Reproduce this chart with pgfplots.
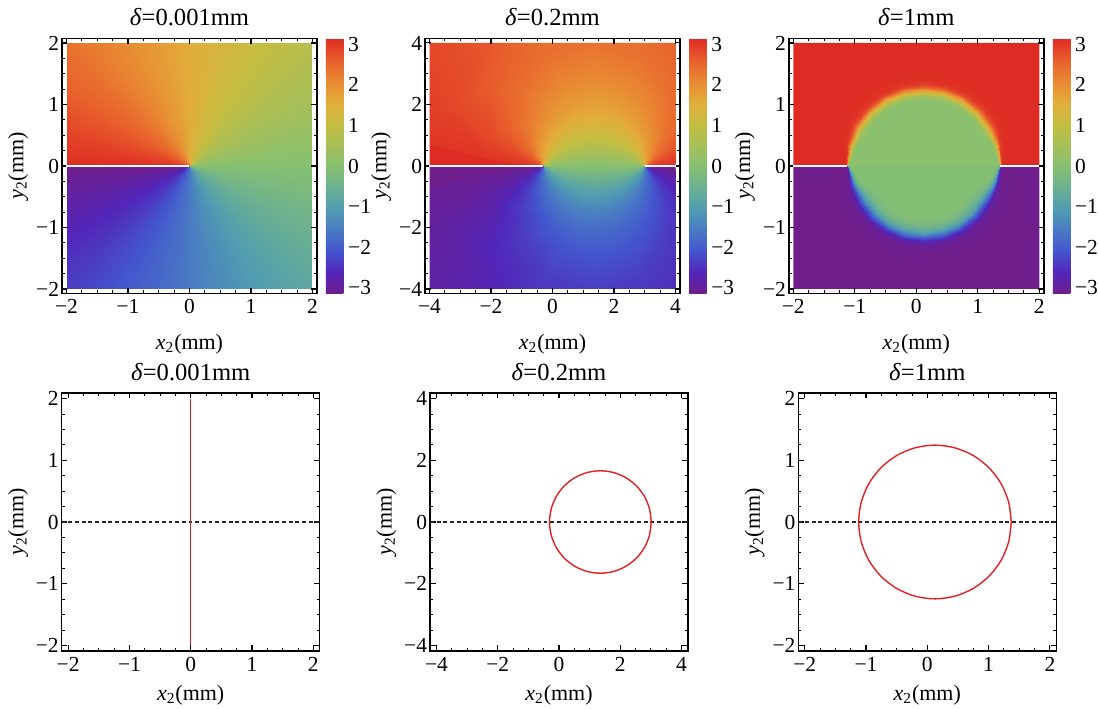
\documentclass[border=0pt]{standalone}
\usepackage{fontspec}
\setmainfont{Liberation Serif}
\usepackage{pgfplots}
\usepackage{pgfplotstable}
\pgfplotsset{compat=1.18}

\newcommand\tickfont{\fontsize{12.2}{14}\selectfont}
\newcommand\labfont{\fontsize{12.5}{15}\selectfont}
\newcommand\titfont{\fontsize{14}{16}\selectfont}
\definecolor{mred}{RGB}{228,32,36}

% phase colormap, -pi .. pi, and its mirror (used for the lower half plane)
\pgfplotsset{
  colormap={phase}{rgb255(0cm)=(112,30,140); rgb255(1cm)=(82,38,185); rgb255(2cm)=(68,86,206);
    rgb255(3cm)=(73,123,195); rgb255(4cm)=(81,157,177); rgb255(5cm)=(107,176,145);
    rgb255(6cm)=(135,192,112); rgb255(7cm)=(167,191,88); rgb255(8cm)=(198,189,65);
    rgb255(9cm)=(226,173,58); rgb255(10cm)=(233,137,51); rgb255(11cm)=(232,93,44);
    rgb255(12cm)=(222,44,36)},
  colormap={phaserev}{rgb255(0cm)=(222,44,36); rgb255(1cm)=(232,93,44); rgb255(2cm)=(233,137,51);
    rgb255(3cm)=(226,173,58); rgb255(4cm)=(198,189,65); rgb255(5cm)=(167,191,88);
    rgb255(6cm)=(135,192,112); rgb255(7cm)=(107,176,145); rgb255(8cm)=(81,157,177);
    rgb255(9cm)=(73,123,195); rgb255(10cm)=(68,86,206); rgb255(11cm)=(82,38,185);
    rgb255(12cm)=(112,30,140)},
  img/.style={scale only axis, anchor=south west, width=4.92cm, height=4.92cm,
    hide axis, view={0}{90}, colormap name=phase,
    point meta min=-3.1416, point meta max=3.1416},
  frm/.style={scale only axis, anchor=south west,
    axis line style={line width=0.9pt},
    tick align=inside,
    major tick length=0.11cm, minor tick length=0.06cm,
    every major tick/.style={line width=0.6pt, black},
    every minor tick/.style={line width=0.5pt, black},
    minor x tick num=3, minor y tick num=3,
    tick label style={font=\tickfont},
    yticklabel style={inner sep=1.5pt},
    xlabel={\textit{x}\textsubscript{2}(mm)},
    ylabel={\textit{y}\textsubscript{2}(mm)}},
  frmtop/.style={frm, width=5.1cm, height=5.1cm,
    every axis title/.style={at={(axis description cs:0.5,1.05)}, anchor=base, font=\titfont},
    every axis x label/.style={at={(axis description cs:0.5,-0.218)}, anchor=base, font=\labfont},
    every axis y label/.style={at={(axis description cs:-0.172,0.5)}, anchor=center, rotate=90, font=\labfont},
    colorbar, colormap name=phase, point meta min=-3.1416, point meta max=3.1416,
    colorbar style={at={(parent axis.north east)}, anchor=north west, xshift=-0.12cm,
      width=0.35cm, axis line style={draw=none}, major tick length=0pt,
      ytick={-3,...,3}, yticklabels={−3,−2,−1,0,1,2,3},
      tick label style={font=\tickfont}, yticklabel style={inner sep=2.5pt}}},
  frmbot/.style={frm, width=5.16cm, height=5.16cm,
    every axis title/.style={at={(axis description cs:0.5,1.048)}, anchor=base, font=\titfont},
    every axis x label/.style={at={(axis description cs:0.5,-0.19)}, anchor=base, font=\labfont},
    every axis y label/.style={at={(axis description cs:-0.169,0.5)}, anchor=center, rotate=90, font=\labfont}},
  cut/.style={white, line width=0.9pt},
  zero/.style={black!85, line width=0.8pt, dash pattern=on 2.2pt off 1.6pt},
}

% delta = 0.001 mm: phase around the origin, five square rings (inner to outer)
\pgfplotstableread{
x y v
-0.008 0 -3.1416
-0.008 -0.001 -3.0172
-0.008 -0.002 -2.8966
-0.008 -0.003 -2.7828
-0.008 -0.004 -2.6779
-0.008 -0.005 -2.5830
-0.008 -0.006 -2.4981
-0.008 -0.007 -2.4228
-0.008 -0.008 -2.3562
-0.007 -0.008 -2.2896
-0.006 -0.008 -2.2143
-0.005 -0.008 -2.1294
-0.004 -0.008 -2.0344
-0.003 -0.008 -1.9296
-0.002 -0.008 -1.8158
-0.001 -0.008 -1.6952
0 -0.008 -1.5708
0.001 -0.008 -1.4464
0.002 -0.008 -1.3258
0.003 -0.008 -1.2120
0.004 -0.008 -1.1071
0.005 -0.008 -1.0122
0.006 -0.008 -0.9273
0.007 -0.008 -0.8520
0.008 -0.008 -0.7854
0.008 -0.007 -0.7188
0.008 -0.006 -0.6435
0.008 -0.005 -0.5586
0.008 -0.004 -0.4636
0.008 -0.003 -0.3588
0.008 -0.002 -0.2450
0.008 -0.001 -0.1244
0.008 0 0
0.008 0.001 0.1244
0.008 0.002 0.2450
0.008 0.003 0.3588
0.008 0.004 0.4636
0.008 0.005 0.5586
0.008 0.006 0.6435
0.008 0.007 0.7188
0.008 0.008 0.7854
0.007 0.008 0.8520
0.006 0.008 0.9273
0.005 0.008 1.0122
0.004 0.008 1.1071
0.003 0.008 1.2120
0.002 0.008 1.3258
0.001 0.008 1.4464
0 0.008 1.5708
-0.001 0.008 1.6952
-0.002 0.008 1.8158
-0.003 0.008 1.9296
-0.004 0.008 2.0344
-0.005 0.008 2.1294
-0.006 0.008 2.2143
-0.007 0.008 2.2896
-0.008 0.008 2.3562
-0.008 0.007 2.4228
-0.008 0.006 2.4981
-0.008 0.005 2.5830
-0.008 0.004 2.6779
-0.008 0.003 2.7828
-0.008 0.002 2.8966
-0.008 0.001 3.0172
-0.008 0 3.1416
-0.2 0 -3.1416
-0.2 -0.025 -3.0172
-0.2 -0.05 -2.8966
-0.2 -0.075 -2.7828
-0.2 -0.1 -2.6779
-0.2 -0.125 -2.5830
-0.2 -0.15 -2.4981
-0.2 -0.175 -2.4228
-0.2 -0.2 -2.3562
-0.175 -0.2 -2.2896
-0.15 -0.2 -2.2143
-0.125 -0.2 -2.1294
-0.1 -0.2 -2.0344
-0.075 -0.2 -1.9296
-0.05 -0.2 -1.8158
-0.025 -0.2 -1.6952
0 -0.2 -1.5708
0.025 -0.2 -1.4464
0.05 -0.2 -1.3258
0.075 -0.2 -1.2120
0.1 -0.2 -1.1071
0.125 -0.2 -1.0122
0.15 -0.2 -0.9273
0.175 -0.2 -0.8520
0.2 -0.2 -0.7854
0.2 -0.175 -0.7188
0.2 -0.15 -0.6435
0.2 -0.125 -0.5586
0.2 -0.1 -0.4636
0.2 -0.075 -0.3588
0.2 -0.05 -0.2450
0.2 -0.025 -0.1244
0.2 0 0
0.2 0.025 0.1244
0.2 0.05 0.2450
0.2 0.075 0.3588
0.2 0.1 0.4636
0.2 0.125 0.5586
0.2 0.15 0.6435
0.2 0.175 0.7188
0.2 0.2 0.7854
0.175 0.2 0.8520
0.15 0.2 0.9273
0.125 0.2 1.0122
0.1 0.2 1.1071
0.075 0.2 1.2120
0.05 0.2 1.3258
0.025 0.2 1.4464
0 0.2 1.5708
-0.025 0.2 1.6952
-0.05 0.2 1.8158
-0.075 0.2 1.9296
-0.1 0.2 2.0344
-0.125 0.2 2.1294
-0.15 0.2 2.2143
-0.175 0.2 2.2896
-0.2 0.2 2.3562
-0.2 0.175 2.4228
-0.2 0.15 2.4981
-0.2 0.125 2.5830
-0.2 0.1 2.6779
-0.2 0.075 2.7828
-0.2 0.05 2.8966
-0.2 0.025 3.0172
-0.2 0 3.1416
-0.5 0 -3.1416
-0.5 -0.0625 -3.0172
-0.5 -0.125 -2.8966
-0.5 -0.1875 -2.7828
-0.5 -0.25 -2.6779
-0.5 -0.3125 -2.5830
-0.5 -0.375 -2.4981
-0.5 -0.4375 -2.4228
-0.5 -0.5 -2.3562
-0.4375 -0.5 -2.2896
-0.375 -0.5 -2.2143
-0.3125 -0.5 -2.1294
-0.25 -0.5 -2.0344
-0.1875 -0.5 -1.9296
-0.125 -0.5 -1.8158
-0.0625 -0.5 -1.6952
0 -0.5 -1.5708
0.0625 -0.5 -1.4464
0.125 -0.5 -1.3258
0.1875 -0.5 -1.2120
0.25 -0.5 -1.1071
0.3125 -0.5 -1.0122
0.375 -0.5 -0.9273
0.4375 -0.5 -0.8520
0.5 -0.5 -0.7854
0.5 -0.4375 -0.7188
0.5 -0.375 -0.6435
0.5 -0.3125 -0.5586
0.5 -0.25 -0.4636
0.5 -0.1875 -0.3588
0.5 -0.125 -0.2450
0.5 -0.0625 -0.1244
0.5 0 0
0.5 0.0625 0.1244
0.5 0.125 0.2450
0.5 0.1875 0.3588
0.5 0.25 0.4636
0.5 0.3125 0.5586
0.5 0.375 0.6435
0.5 0.4375 0.7188
0.5 0.5 0.7854
0.4375 0.5 0.8520
0.375 0.5 0.9273
0.3125 0.5 1.0122
0.25 0.5 1.1071
0.1875 0.5 1.2120
0.125 0.5 1.3258
0.0625 0.5 1.4464
0 0.5 1.5708
-0.0625 0.5 1.6952
-0.125 0.5 1.8158
-0.1875 0.5 1.9296
-0.25 0.5 2.0344
-0.3125 0.5 2.1294
-0.375 0.5 2.2143
-0.4375 0.5 2.2896
-0.5 0.5 2.3562
-0.5 0.4375 2.4228
-0.5 0.375 2.4981
-0.5 0.3125 2.5830
-0.5 0.25 2.6779
-0.5 0.1875 2.7828
-0.5 0.125 2.8966
-0.5 0.0625 3.0172
-0.5 0 3.1416
-1 0 -3.1416
-1 -0.125 -3.0172
-1 -0.25 -2.8966
-1 -0.375 -2.7828
-1 -0.5 -2.6779
-1 -0.625 -2.5830
-1 -0.75 -2.4981
-1 -0.875 -2.4228
-1 -1 -2.3562
-0.875 -1 -2.2896
-0.75 -1 -2.2143
-0.625 -1 -2.1294
-0.5 -1 -2.0344
-0.375 -1 -1.9296
-0.25 -1 -1.8158
-0.125 -1 -1.6952
0 -1 -1.5708
0.125 -1 -1.4464
0.25 -1 -1.3258
0.375 -1 -1.2120
0.5 -1 -1.1071
0.625 -1 -1.0122
0.75 -1 -0.9273
0.875 -1 -0.8520
1 -1 -0.7854
1 -0.875 -0.7188
1 -0.75 -0.6435
1 -0.625 -0.5586
1 -0.5 -0.4636
1 -0.375 -0.3588
1 -0.25 -0.2450
1 -0.125 -0.1244
1 0 0
1 0.125 0.1244
1 0.25 0.2450
1 0.375 0.3588
1 0.5 0.4636
1 0.625 0.5586
1 0.75 0.6435
1 0.875 0.7188
1 1 0.7854
0.875 1 0.8520
0.75 1 0.9273
0.625 1 1.0122
0.5 1 1.1071
0.375 1 1.2120
0.25 1 1.3258
0.125 1 1.4464
0 1 1.5708
-0.125 1 1.6952
-0.25 1 1.8158
-0.375 1 1.9296
-0.5 1 2.0344
-0.625 1 2.1294
-0.75 1 2.2143
-0.875 1 2.2896
-1 1 2.3562
-1 0.875 2.4228
-1 0.75 2.4981
-1 0.625 2.5830
-1 0.5 2.6779
-1 0.375 2.7828
-1 0.25 2.8966
-1 0.125 3.0172
-1 0 3.1416
-2 0 -3.1416
-2 -0.25 -3.0172
-2 -0.5 -2.8966
-2 -0.75 -2.7828
-2 -1 -2.6779
-2 -1.25 -2.5830
-2 -1.5 -2.4981
-2 -1.75 -2.4228
-2 -2 -2.3562
-1.75 -2 -2.2896
-1.5 -2 -2.2143
-1.25 -2 -2.1294
-1 -2 -2.0344
-0.75 -2 -1.9296
-0.5 -2 -1.8158
-0.25 -2 -1.6952
0 -2 -1.5708
0.25 -2 -1.4464
0.5 -2 -1.3258
0.75 -2 -1.2120
1 -2 -1.1071
1.25 -2 -1.0122
1.5 -2 -0.9273
1.75 -2 -0.8520
2 -2 -0.7854
2 -1.75 -0.7188
2 -1.5 -0.6435
2 -1.25 -0.5586
2 -1 -0.4636
2 -0.75 -0.3588
2 -0.5 -0.2450
2 -0.25 -0.1244
2 0 0
2 0.25 0.1244
2 0.5 0.2450
2 0.75 0.3588
2 1 0.4636
2 1.25 0.5586
2 1.5 0.6435
2 1.75 0.7188
2 2 0.7854
1.75 2 0.8520
1.5 2 0.9273
1.25 2 1.0122
1 2 1.1071
0.75 2 1.2120
0.5 2 1.3258
0.25 2 1.4464
0 2 1.5708
-0.25 2 1.6952
-0.5 2 1.8158
-0.75 2 1.9296
-1 2 2.0344
-1.25 2 2.1294
-1.5 2 2.2143
-1.75 2 2.2896
-2 2 2.3562
-2 1.75 2.4228
-2 1.5 2.4981
-2 1.25 2.5830
-2 1 2.6779
-2 0.75 2.7828
-2 0.5 2.8966
-2 0.25 3.0172
-2 0 3.1416
}\fanA

% delta = 0.2 mm: upper half plane, arcs of equal phase through the two end points
% (normalised units: end points at ux = -1 and +1)
\pgfplotstableread{
ux uy v
-0.98661 0 0
-0.94138 0 0
-0.80050 0 0
-0.63515 0 0
-0.46212 0 0
-0.29131 0 0
-0.14888 0 0
0 0 0
0.14888 0 0
0.29131 0 0
0.46212 0 0
0.63515 0 0
0.80050 0 0
0.94138 0 0
0.98661 0 0
-0.98833 0.00666 0.5236
-0.94861 0.02867 0.5236
-0.82023 0.09201 0.5236
-0.66159 0.15535 0.5236
-0.48781 0.20755 0.5236
-0.31034 0.24372 0.5236
-0.15932 0.26159 0.5236
0 0.26795 0.5236
0.15932 0.26159 0.5236
0.31034 0.24372 0.5236
0.48781 0.20755 0.5236
0.66159 0.15535 0.5236
0.82023 0.09201 0.5236
0.94861 0.02867 0.5236
0.98833 0.00666 0.5236
-0.99317 0.01159 1.0472
-0.96894 0.05073 1.0472
-0.87948 0.17088 1.0472
-0.74649 0.30361 1.0472
-0.57521 0.42388 1.0472
-0.37773 0.51382 1.0472
-0.19706 0.56041 1.0472
0 0.57735 1.0472
0.19706 0.56041 1.0472
0.37773 0.51382 1.0472
0.57521 0.42388 1.0472
0.74649 0.30361 1.0472
0.87948 0.17088 1.0472
0.96894 0.05073 1.0472
0.99317 0.01159 1.0472
-0.99639 0.01297 1.3090
-0.98283 0.05739 1.3090
-0.92342 0.20012 1.3090
-0.81543 0.36991 1.3090
-0.65220 0.53607 1.3090
-0.44080 0.66879 1.3090
-0.23350 0.74065 1.3090
0 0.76733 1.3090
0.23350 0.74065 1.3090
0.44080 0.66879 1.3090
0.65220 0.53607 1.3090
0.81543 0.36991 1.3090
0.92342 0.20012 1.3090
0.98283 0.05739 1.3090
0.99639 0.01297 1.3090
-0.99846 0.01338 1.4661
-0.99192 0.05963 1.4661
-0.95391 0.21285 1.4661
-0.86664 0.40478 1.4661
-0.71328 0.60361 1.4661
-0.49353 0.77095 1.4661
-0.26483 0.86490 1.4661
0 0.90040 1.4661
0.26483 0.86490 1.4661
0.49353 0.77095 1.4661
0.71328 0.60361 1.4661
0.86664 0.40478 1.4661
0.95391 0.21285 1.4661
0.99192 0.05963 1.4661
0.99846 0.01338 1.4661
-0.99940 0.01346 1.5359
-0.99608 0.06018 1.5359
-0.96835 0.21713 1.5359
-0.89192 0.41863 1.5359
-0.74475 0.63334 1.5359
-0.52169 0.81892 1.5359
-0.28190 0.92516 1.5359
0 0.96569 1.5359
0.28190 0.92516 1.5359
0.52169 0.81892 1.5359
0.74475 0.63334 1.5359
0.89192 0.41863 1.5359
0.96835 0.21713 1.5359
0.99608 0.06018 1.5359
0.99940 0.01346 1.5359
-1.00034 0.01347 1.6057
-1.00028 0.06043 1.6057
-0.98326 0.22047 1.6057
-0.91878 0.43124 1.6057
-0.77922 0.66265 1.6057
-0.55333 0.86860 1.6057
-0.30137 0.98906 1.6057
0 1.03553 1.6057
0.30137 0.98906 1.6057
0.55333 0.86860 1.6057
0.77922 0.66265 1.6057
0.91878 0.43124 1.6057
0.98326 0.22047 1.6057
1.00028 0.06043 1.6057
1.00034 0.01347 1.6057
-1.00128 0.01342 1.6755
-1.00451 0.06039 1.6755
-0.99860 0.22282 1.6755
-0.94724 0.44243 1.6755
-0.81694 0.69134 1.6755
-0.58898 0.92005 1.6755
-0.32368 1.05709 1.6755
0 1.11061 1.6755
0.32368 1.05709 1.6755
0.58898 0.92005 1.6755
0.81694 0.69134 1.6755
0.94724 0.44243 1.6755
0.99860 0.22282 1.6755
1.00451 0.06039 1.6755
1.00128 0.01342 1.6755
-1.00336 0.01306 1.8326
-1.01401 0.05921 1.8326
-1.03435 0.22416 1.8326
-1.01705 0.46137 1.8326
-0.91508 0.75213 1.8326
-0.68704 1.04239 1.8326
-0.38717 1.22811 1.8326
0 1.30323 1.8326
0.38717 1.22811 1.8326
0.68704 1.04239 1.8326
0.91508 0.75213 1.8326
1.01705 0.46137 1.8326
1.03435 0.22416 1.8326
1.01401 0.05921 1.8326
1.00336 0.01306 1.8326
-1.00665 0.01175 2.0944
-1.02923 0.05388 2.0944
-1.09568 0.21289 2.0944
-1.14946 0.46751 2.0944
-1.12666 0.83026 2.0944
-0.92878 1.26341 2.0944
-0.55840 1.58805 2.0944
0 1.73206 2.0944
0.55840 1.58805 2.0944
0.92878 1.26341 2.0944
1.12666 0.83026 2.0944
1.14946 0.46751 2.0944
1.09568 0.21289 2.0944
1.02923 0.05388 2.0944
1.00665 0.01175 2.0944
-1.00948 0.00962 2.3562
-1.04267 0.04457 2.3562
-1.15445 0.18315 2.3562
-1.29416 0.42977 2.3562
-1.40579 0.84586 2.3562
-1.33090 1.47820 2.3562
-0.90033 2.09062 2.3562
0 2.41425 2.3562
0.90033 2.09062 2.3562
1.33090 1.47820 2.3562
1.40579 0.84586 2.3562
1.29416 0.42977 2.3562
1.15445 0.18315 2.3562
1.04267 0.04457 2.3562
1.00948 0.00962 2.3562
-1.01167 0.00682 2.6180
-1.05322 0.03183 2.6180
-1.20401 0.13507 2.6180
-1.43253 0.33639 2.6180
-1.73577 0.73850 2.6180
-1.99302 1.56524 2.6180
-1.69829 2.78847 2.6180
0 3.73218 2.6180
1.69829 2.78847 2.6180
1.99302 1.56524 2.6180
1.73577 0.73850 2.6180
1.43253 0.33639 2.6180
1.20401 0.13507 2.6180
1.05322 0.03183 2.6180
1.01167 0.00682 2.6180
-1.01305 0.00353 2.8798
-1.05996 0.01658 2.8798
-1.23741 0.07186 2.8798
-1.53575 0.18668 2.8798
-2.03621 0.44845 2.8798
-2.89993 1.17892 2.8798
-3.83478 3.25929 2.8798
0 7.59672 2.8798
3.83478 3.25929 2.8798
2.89993 1.17892 2.8798
2.03621 0.44845 2.8798
1.53575 0.18668 2.8798
1.23741 0.07186 2.8798
1.05996 0.01658 2.8798
1.01305 0.00353 2.8798
-1.01347 0.00119 3.0543
-1.06202 0.00560 3.0543
-1.24789 0.02440 3.0543
-1.57001 0.06427 3.0543
-2.14888 0.15937 3.0543
-3.36354 0.46048 3.0543
-6.19573 1.77335 3.0543
0 22.876 3.0543
6.19573 1.77335 3.0543
3.36354 0.46048 3.0543
2.14888 0.15937 3.0543
1.57001 0.06427 3.0543
1.24789 0.02440 3.0543
1.06202 0.00560 3.0543
1.01347 0.00119 3.0543
}\bip

% delta = 1 mm: rings round the disc centre (0.12,0), every 15 degrees,
% gu = phase above the axis, gl = |phase| below it
\pgfplotstableread{
x y gu gl
0.12 0 0.05 0.05
0.12 0 0.05 0.05
0.12 0 0.05 0.05
0.12 0 0.05 0.05
0.12 0 0.05 0.05
0.12 0 0.05 0.05
0.12 0 0.05 0.05
0.12 0 0.05 0.05
0.12 0 0.05 0.05
0.12 0 0.05 0.05
0.12 0 0.05 0.05
0.12 0 0.05 0.05
0.12 0 0.05 0.05
1.316 0 0.05 0.05
1.084 0.2583 0.05 0.05
0.81282 0.4 0.05 0.05
0.68569 0.56569 0.05 0.05
0.52 0.69282 0.05 0.05
0.32706 0.77274 0.05 0.05
0.12 0.8 0.05 0.05
-0.08706 0.77274 0.05 0.05
-0.28 0.69282 0.05 0.05
-0.44569 0.56569 0.05 0.05
-0.57282 0.4 0.05 0.05
-0.844 0.2583 0.05 0.05
-1.076 0 0.05 0.05
1.331 0 0.05 0.2
1.16369 0.27966 0.05 0.2
0.94273 0.475 0.05 0.2
0.79175 0.67175 0.05 0.2
0.595 0.82273 0.05 0.2
0.36588 0.91763 0.05 0.2
0.12 0.95 0.05 0.2
-0.12588 0.91763 0.05 0.2
-0.355 0.82273 0.05 0.2
-0.55175 0.67175 0.05 0.2
-0.70273 0.475 0.05 0.2
-0.92369 0.27966 0.05 0.2
-1.091 0 0.05 0.2
1.339 0 0.06 0.55
1.20619 0.29104 0.06 0.55
1.01201 0.515 0.06 0.55
0.84832 0.72832 0.06 0.55
0.635 0.89201 0.06 0.55
0.38658 0.99491 0.06 0.55
0.12 1.03 0.06 0.55
-0.14658 0.99491 0.06 0.55
-0.395 0.89201 0.06 0.55
-0.60832 0.72832 0.06 0.55
-0.77201 0.515 0.06 0.55
-0.96619 0.29104 0.06 0.55
-1.099 0 0.06 0.55
1.346 0 0.12 1.1
1.24338 0.30101 0.12 1.1
1.07263 0.55 0.12 1.1
0.89782 0.77782 0.12 1.1
0.67 0.95263 0.12 1.1
0.4047 1.06252 0.12 1.1
0.12 1.10 0.12 1.1
-0.1647 1.06252 0.12 1.1
-0.43 0.95263 0.12 1.1
-0.65782 0.77782 0.12 1.1
-0.83263 0.55 0.12 1.1
-1.00338 0.30101 0.12 1.1
-1.106 0 0.12 1.1
1.352 0 0.6 1.85
1.27525 0.30955 0.6 1.85
1.12459 0.58 0.6 1.85
0.94025 0.82025 0.6 1.85
0.70 1.00459 0.6 1.85
0.42023 1.12048 0.6 1.85
0.12 1.16 0.6 1.85
-0.18023 1.12048 0.6 1.85
-0.46 1.00459 0.6 1.85
-0.70025 0.82025 0.6 1.85
-0.88459 0.58 0.6 1.85
-1.03525 0.30955 0.6 1.85
-1.112 0 0.6 1.85
1.357 0 1.4 2.45
1.30182 0.31667 1.4 2.45
1.1679 0.605 1.4 2.45
0.9756 0.8556 1.4 2.45
0.725 1.0479 1.4 2.45
0.43317 1.16878 1.4 2.45
0.12 1.21 1.4 2.45
-0.19317 1.16878 1.4 2.45
-0.485 1.0479 1.4 2.45
-0.7356 0.8556 1.4 2.45
-0.9279 0.605 1.4 2.45
-1.06182 0.31667 1.4 2.45
-1.117 0 1.4 2.45
1.361 0 2.0 2.8
1.32307 0.32236 2.0 2.8
1.20254 0.625 2.0 2.8
1.00389 0.88389 2.0 2.8
0.745 1.08254 2.0 2.8
0.44353 1.20741 2.0 2.8
0.12 1.25 2.0 2.8
-0.20353 1.20741 2.0 2.8
-0.505 1.08254 2.0 2.8
-0.76389 0.88389 2.0 2.8
-0.96254 0.625 2.0 2.8
-1.08307 0.32236 2.0 2.8
-1.121 0 2.0 2.8
1.365 0 2.6 2.97
1.34432 0.32805 2.6 2.97
1.23718 0.645 2.6 2.97
1.03217 0.91217 2.6 2.97
0.765 1.11718 2.6 2.97
0.45388 1.24605 2.6 2.97
0.12 1.29 2.6 2.97
-0.21388 1.24605 2.6 2.97
-0.525 1.11718 2.6 2.97
-0.79217 0.91217 2.6 2.97
-0.99718 0.645 2.6 2.97
-1.10432 0.32805 2.6 2.97
-1.125 0 2.6 2.97
1.369 0 2.95 3.06
1.36557 0.33375 2.95 3.06
1.27182 0.665 2.95 3.06
1.06046 0.94046 2.95 3.06
0.785 1.15182 2.95 3.06
0.46423 1.28469 2.95 3.06
0.12 1.33 2.95 3.06
-0.22423 1.28469 2.95 3.06
-0.545 1.15182 2.95 3.06
-0.82046 0.94046 2.95 3.06
-1.03182 0.665 2.95 3.06
-1.12557 0.33375 2.95 3.06
-1.129 0 2.95 3.06
1.376 0 3.1 3.12
1.40276 0.34371 3.1 3.12
1.33244 0.70 3.1 3.12
1.10995 0.98995 3.1 3.12
0.82 1.21244 3.1 3.12
0.48235 1.3523 3.1 3.12
0.12 1.40 3.1 3.12
-0.24235 1.3523 3.1 3.12
-0.58 1.21244 3.1 3.12
-0.86995 0.98995 3.1 3.12
-1.09244 0.70 3.1 3.12
-1.16276 0.34371 3.1 3.12
-1.136 0 3.1 3.12
1.396 0 3.14 3.14
1.50901 0.37218 3.14 3.14
1.50565 0.80 3.14 3.14
1.25138 1.13138 3.14 3.14
0.92 1.38565 3.14 3.14
0.53411 1.54549 3.14 3.14
0.12 1.60 3.14 3.14
-0.29411 1.54549 3.14 3.14
-0.68 1.38565 3.14 3.14
-1.01138 1.13138 3.14 3.14
-1.26565 0.80 3.14 3.14
-1.26901 0.37218 3.14 3.14
-1.156 0 3.14 3.14
}\disc

\begin{document}
\begin{tikzpicture}
\useasboundingbox (0,0) rectangle (21.96,14.18);

% ---------- top row: phase maps ----------
\begin{axis}[img, at={(1.33cm,8.40cm)}, xmin=-2, xmax=2, ymin=-2, ymax=2]
\addplot3[surf, shader=interp, mesh/cols=65] table[x=x, y=y, z=v] {\fanA};
\end{axis}
\begin{axis}[frmtop, at={(1.24cm,8.31cm)},
  xmin=-2.073, xmax=2.073, ymin=-2.073, ymax=2.073,
  xtick={-2,...,2}, ytick={-2,...,2},
  xticklabels={−2,−1,0,1,2}, yticklabels={−2,−1,0,1,2},
  title={\textit{δ}=0.001mm}]
\addplot[cut] coordinates {(-2,0) (0,0)};
\end{axis}

% delta = 0.2 mm, end points -0.31 and 3.01 (centre 1.35, half length 1.66)
\begin{axis}[img, at={(8.59cm,8.40cm)}, xmin=-3.22289, xmax=1.59639, ymin=-2.40964, ymax=2.40964]
\addplot3[surf, shader=flat, mesh/cols=2] coordinates {(-3.3,0,3.1416) (1.7,0,3.1416) (-3.3,2.5,3.1416) (1.7,2.5,3.1416)};
\addplot3[surf, shader=interp, mesh/cols=15] table[x=ux, y=uy, z=v] {\bip};
\end{axis}
\begin{axis}[img, colormap name=phaserev, y dir=reverse, at={(8.59cm,8.40cm)}, xmin=-3.22289, xmax=1.59639, ymin=-2.40964, ymax=2.40964]
\addplot3[surf, shader=flat, mesh/cols=2] coordinates {(-3.3,0,3.1416) (1.7,0,3.1416) (-3.3,2.5,3.1416) (1.7,2.5,3.1416)};
\addplot3[surf, shader=interp, mesh/cols=15] table[x=ux, y=uy, z=v] {\bip};
\end{axis}
\begin{axis}[frmtop, at={(8.50cm,8.31cm)},
  xmin=-4.146, xmax=4.146, ymin=-4.146, ymax=4.146,
  xtick={-4,-2,...,4}, ytick={-4,-2,...,4},
  xticklabels={−4,−2,0,2,4}, yticklabels={−4,−2,0,2,4},
  title={\textit{δ}=0.2mm}]
\addplot[cut] coordinates {(-4,0) (-0.31,0)};
\addplot[cut] coordinates {(3.01,0) (4,0)};
\end{axis}

% delta = 1 mm
\begin{axis}[img, at={(15.866cm,8.40cm)}, xmin=-2, xmax=2, ymin=-2, ymax=2]
\addplot3[surf, shader=flat, mesh/cols=2] coordinates {(-2.1,0,3.1416) (2.1,0,3.1416) (-2.1,2.1,3.1416) (2.1,2.1,3.1416)};
\addplot3[surf, shader=interp, mesh/cols=13] table[x=x, y=y, z=gu] {\disc};
\end{axis}
\begin{axis}[img, colormap name=phaserev, y dir=reverse, at={(15.866cm,8.40cm)}, xmin=-2, xmax=2, ymin=-2, ymax=2]
\addplot3[surf, shader=flat, mesh/cols=2] coordinates {(-2.1,0,3.1416) (2.1,0,3.1416) (-2.1,2.1,3.1416) (2.1,2.1,3.1416)};
\addplot3[surf, shader=interp, mesh/cols=13] table[x=x, y=y, z=gl] {\disc};
\end{axis}
\begin{axis}[frmtop, at={(15.776cm,8.31cm)},
  xmin=-2.073, xmax=2.073, ymin=-2.073, ymax=2.073,
  xtick={-2,...,2}, ytick={-2,...,2},
  xticklabels={−2,−1,0,1,2}, yticklabels={−2,−1,0,1,2},
  title={\textit{δ}=1mm}]
\addplot[cut] coordinates {(-2,0) (-1.12,0)};
\addplot[cut] coordinates {(1.36,0) (2,0)};
\end{axis}

% ---------- bottom row: zero-phase contours ----------
\begin{axis}[frmbot, at={(1.234cm,1.16cm)},
  xmin=-2.105, xmax=2.105, ymin=-2.09, ymax=2.09,
  xtick={-2,...,2}, ytick={-2,...,2},
  xticklabels={−2,−1,0,1,2}, yticklabels={−2,−1,0,1,2},
  title={\textit{δ}=0.001mm}]
\addplot[zero] coordinates {(-2.105,0) (2.105,0)};
\addplot[mred, line width=0.8pt] coordinates {(0,-2) (0,2)};
\end{axis}

\begin{axis}[frmbot, at={(8.60cm,1.16cm)},
  xmin=-4.21, xmax=4.21, ymin=-4.18, ymax=4.18,
  xtick={-4,-2,...,4}, ytick={-4,-2,...,4},
  xticklabels={−4,−2,0,2,4}, yticklabels={−4,−2,0,2,4},
  title={\textit{δ}=0.2mm}]
\addplot[zero] coordinates {(-4.21,0) (4.21,0)};
\addplot[mred, line width=0.8pt, smooth] coordinates {
(3.01,0) (2.9534,0.4296) (2.7876,0.83) (2.5238,1.1738) (2.18,1.4376) (1.7796,1.6034)
(1.35,1.66) (0.9204,1.6034) (0.52,1.4376) (0.1762,1.1738) (-0.0876,0.83) (-0.2534,0.4296)
(-0.31,0) (-0.2534,-0.4296) (-0.0876,-0.83) (0.1762,-1.1738) (0.52,-1.4376) (0.9204,-1.6034)
(1.35,-1.66) (1.7796,-1.6034) (2.18,-1.4376) (2.5238,-1.1738) (2.7876,-0.83) (2.9534,-0.4296) (3.01,0)};
\end{axis}

\begin{axis}[frmbot, at={(15.966cm,1.16cm)},
  xmin=-2.105, xmax=2.105, ymin=-2.09, ymax=2.09,
  xtick={-2,...,2}, ytick={-2,...,2},
  xticklabels={−2,−1,0,1,2}, yticklabels={−2,−1,0,1,2},
  title={\textit{δ}=1mm}]
\addplot[zero] coordinates {(-2.105,0) (2.105,0)};
\addplot[mred, line width=0.8pt, smooth] coordinates {
(1.37,0) (1.3275,0.3222) (1.2032,0.6225) (1.0053,0.8803) (0.7475,1.0782) (0.4472,1.2025)
(0.125,1.245) (-0.1972,1.2025) (-0.4975,1.0782) (-0.7553,0.8803) (-0.9532,0.6225) (-1.0775,0.3222)
(-1.12,0) (-1.0775,-0.3222) (-0.9532,-0.6225) (-0.7553,-0.8803) (-0.4975,-1.0782) (-0.1972,-1.2025)
(0.125,-1.245) (0.4472,-1.2025) (0.7475,-1.0782) (1.0053,-0.8803) (1.2032,-0.6225) (1.3275,-0.3222) (1.37,0)};
\end{axis}
\end{tikzpicture}
\end{document}
